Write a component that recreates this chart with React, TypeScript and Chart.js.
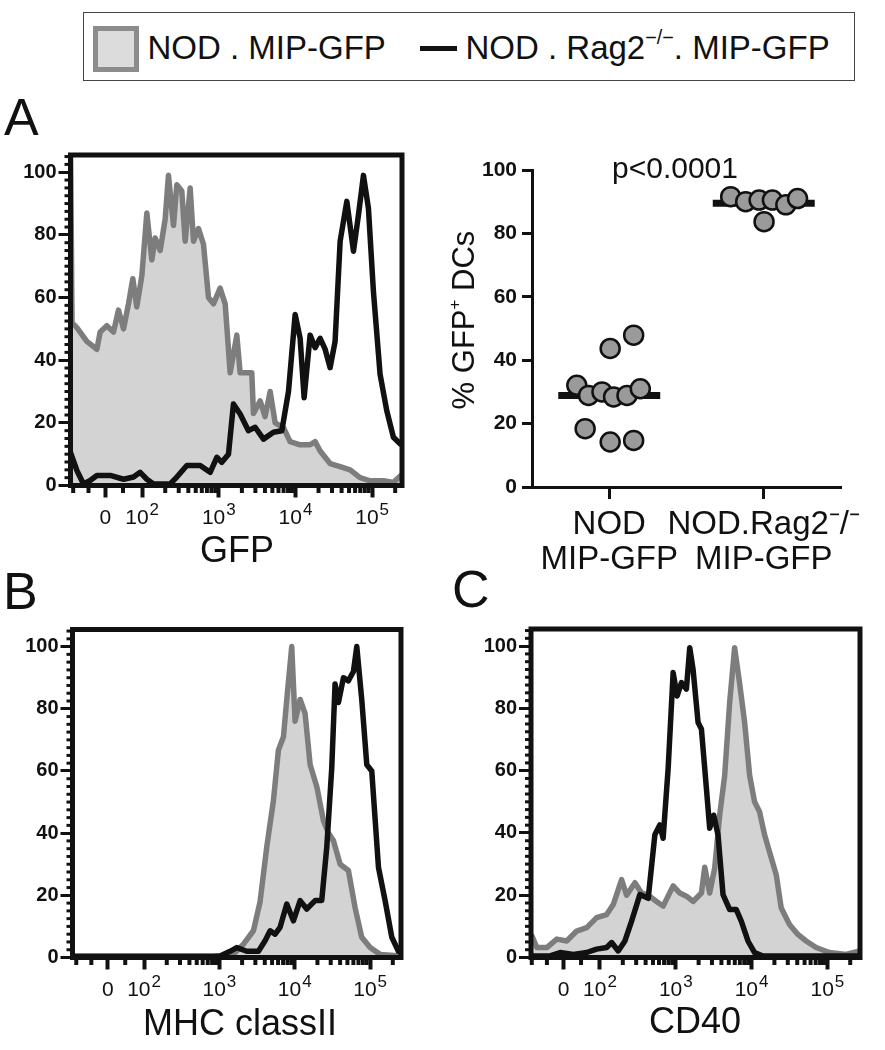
import React, { useEffect, useRef } from "react";
import { Chart, registerables } from "chart.js";

Chart.register(...registerables);
Chart.defaults.color = "#111";

const FONT = "'Liberation Sans', Arial, Helvetica, sans-serif";

// ---- histogram axes (display units: 2 = 10^2, 3 = 10^3 ...) ----
const histTickValues = [1.52, 2, 3, 4, 5];
const histTickBase = ["0", "10", "10", "10", "10"];
const histTickExp = ["", "2", "3", "4", "5"];
const histYTicks = [0, 20, 40, 60, 80, 100];
const histYMax = 105.5;
const histLinearMinor = [1.1, 1.3, 1.75];

// ---- Panel A : GFP ----
const gfpNodX = [1.065, 1.085, 1.148, 1.278, 1.409, 1.452, 1.539, 1.626, 1.691, 1.757, 1.822, 1.878, 1.93, 1.996, 2.061, 2.126, 2.17, 2.235, 2.3, 2.343, 2.409, 2.452, 2.517, 2.561, 2.626, 2.67, 2.735, 2.8, 2.865, 2.93, 3.017, 3.083, 3.148, 3.235, 3.278, 3.43, 3.452, 3.539, 3.604, 3.67, 3.735, 3.843, 3.93, 4.061, 4.191, 4.257, 4.322, 4.452, 4.583, 4.713, 4.843, 4.974, 5.148, 5.278, 5.39];
const gfpNodY = [110, 52, 50.4, 46, 43.5, 49, 51, 49, 56, 50, 58, 66, 57, 67, 87, 72, 79, 75, 85, 99, 83, 96, 94, 78, 95, 78, 82, 77, 60, 58, 63, 58, 36, 48, 36, 36, 23, 27, 22, 30, 20, 18.5, 14, 13, 13, 14, 11, 7, 6, 5, 2.5, 1.5, 1.5, 1, 3.5];
const gfpRagX = [1.065, 1.148, 1.235, 1.322, 1.409, 1.583, 1.757, 1.887, 1.974, 2.061, 2.148, 2.365, 2.452, 2.583, 2.757, 2.887, 2.974, 3.039, 3.126, 3.191, 3.278, 3.387, 3.474, 3.583, 3.713, 3.822, 3.909, 3.996, 4.061, 4.113, 4.191, 4.257, 4.322, 4.387, 4.452, 4.517, 4.583, 4.67, 4.757, 4.822, 4.887, 4.952, 5.017, 5.104, 5.191, 5.278, 5.365, 5.39];
const gfpRagY = [10.6, 4.8, 0.5, 1.6, 3.2, 3.2, 2, 2.7, 4.2, 2, 0.5, 0.5, 2.7, 6.4, 6.4, 4.2, 9, 7.4, 10, 26, 22.8, 17.5, 18.6, 14.8, 17, 17.5, 30, 54.6, 47, 28, 48, 44, 47, 43.5, 37.6, 46, 78, 90.7, 74.8, 86.4, 99, 88.5, 62, 35.5, 23.9, 15.4, 13.3, 13.8];

// ---- Panel B : MHC class II ----
const mhcNodX = [1.05, 3.142, 3.186, 3.319, 3.451, 3.54, 3.628, 3.717, 3.783, 3.85, 3.894, 3.96, 4.004, 4.071, 4.137, 4.204, 4.292, 4.381, 4.447, 4.513, 4.602, 4.712, 4.801, 4.889, 5.0, 5.133, 5.41];
const mhcNodY = [0.5, 0.5, 1, 4.3, 8.6, 18, 35.5, 50.5, 66.7, 71, 83, 100, 76, 83, 78.5, 62, 55, 44, 40, 37.6, 30, 28, 16, 6.5, 3.2, 1, 0.5];
const mhcRagX = [1.05, 2.92, 3.009, 3.142, 3.23, 3.363, 3.518, 3.606, 3.673, 3.739, 3.805, 3.894, 3.982, 4.071, 4.159, 4.27, 4.358, 4.425, 4.491, 4.535, 4.58, 4.646, 4.712, 4.779, 4.823, 4.889, 4.956, 5.022, 5.111, 5.199, 5.288, 5.376, 5.41];
const mhcRagY = [0.3, 0.3, 0.5, 2, 3.2, 2, 2, 5.4, 8.6, 7.5, 9.7, 17.2, 11.8, 18.3, 15.6, 18.3, 18.3, 35.5, 61, 88, 82, 90, 89, 92, 100, 83, 62, 60, 29, 18.3, 6.5, 2, 2];

// ---- Panel C : CD40 ----
const cd40NodX = [1.095, 1.167, 1.298, 1.43, 1.561, 1.693, 1.825, 1.956, 2.088, 2.175, 2.285, 2.351, 2.461, 2.548, 2.636, 2.746, 2.833, 2.965, 3.053, 3.14, 3.228, 3.338, 3.382, 3.447, 3.513, 3.579, 3.645, 3.711, 3.776, 3.842, 3.908, 3.974, 4.039, 4.105, 4.171, 4.259, 4.325, 4.39, 4.5, 4.61, 4.719, 4.851, 5.026, 5.246, 5.43];
const cd40NodY = [7.4, 3.2, 3.2, 5.9, 5.3, 8.5, 9.6, 12.8, 13.8, 17, 25, 20, 24, 20.7, 20, 18, 16.5, 23, 20.7, 19.7, 18, 20.7, 29, 20.7, 28.7, 45.7, 58.5, 82, 99.5, 88, 75.5, 58.5, 50, 46.8, 39.4, 32, 26.6, 16, 10.6, 7.4, 5.3, 3.2, 1.6, 1, 2.1];
const cd40RagX = [1.095, 1.342, 1.474, 1.649, 1.825, 1.956, 2.088, 2.154, 2.241, 2.329, 2.417, 2.526, 2.636, 2.724, 2.789, 2.833, 2.899, 2.965, 3.018, 3.075, 3.14, 3.184, 3.228, 3.294, 3.338, 3.404, 3.447, 3.5, 3.557, 3.623, 3.711, 3.798, 3.864, 3.952, 4.039, 4.149, 5.43];
const cd40RagY = [0.5, 0.5, 1.6, 1, 1.6, 2.7, 3.2, 4.8, 2.1, 5.3, 11.7, 20.2, 19, 39.4, 42.6, 38.3, 60.6, 91.5, 84, 88.3, 86.2, 99.5, 92.5, 75.5, 73.4, 54.3, 41.5, 45.7, 39.4, 20.2, 15.4, 15.4, 11.7, 5.3, 1.6, 0.5, 0.5];

// ---- Panel A right : % GFP+ DCs ----
const groupLabels = [["NOD", "MIP-GFP"], ["NOD.Rag2⁻/⁻", "MIP-GFP"]];
const groupTickValues = [1, 2];
const pctYTicks = [0, 20, 40, 60, 80, 100];
const nodPctX = [1.006, 1.158, 0.79, 0.866, 0.953, 1.028, 1.115, 1.201, 0.844, 1.006, 1.158];
const nodPctY = [43.7, 47.9, 32.1, 28.9, 30, 28.4, 28.9, 31, 18.4, 14.2, 14.7];
const ragPctX = [1.786, 1.883, 1.97, 2.056, 2.143, 2.219, 2.002];
const ragPctY = [91.6, 90, 90.5, 90.5, 89, 91, 83.7];
const nodMedian = 28.9;
const ragMedian = 89.5;
const medianHalfWidth = 0.33;

const pts = (xs: number[], ys: number[]) => xs.map((x, i) => ({ x, y: ys[i] }));

const histMinorX: number[] = (() => {
  const out = [...histLinearMinor];
  for (let k = 2; k <= 5; k++) for (let m = 2; m <= 9; m++) out.push(k + Math.log10(m));
  return out;
})();

const framePlugin = {
  id: "frameMinor",
  afterDraw(chart: any) {
    const { ctx, chartArea: a, scales } = chart;
    ctx.save();
    ctx.strokeStyle = "#111";
    ctx.lineCap = "butt";
    ctx.lineWidth = 3;
    for (let v = 2.5; v < histYMax; v += 2.5) {
      if (v % 20 === 0) continue;
      const y = scales.y.getPixelForValue(v);
      ctx.beginPath();
      ctx.moveTo(a.left - 6, y);
      ctx.lineTo(a.left, y);
      ctx.stroke();
    }
    ctx.lineWidth = 4;
    for (const v of histMinorX) {
      if (v < scales.x.min || v > scales.x.max) continue;
      const x = scales.x.getPixelForValue(v);
      ctx.beginPath();
      ctx.moveTo(x, a.bottom);
      ctx.lineTo(x, a.bottom + 7.5);
      ctx.stroke();
    }
    ctx.lineWidth = 5;
    ctx.strokeRect(a.left, a.top, a.right - a.left, a.bottom - a.top);

    // x tick labels with real superscripts
    ctx.fillStyle = "#111";
    ctx.textBaseline = "alphabetic";
    ctx.textAlign = "left";
    const baseFont = `21px ${FONT}`;
    const expFont = `17px ${FONT}`;
    const baseY = a.bottom + 38.5;
    histTickValues.forEach((v, i) => {
      const x = scales.x.getPixelForValue(v);
      ctx.font = baseFont;
      const wb = ctx.measureText(histTickBase[i]).width;
      ctx.font = expFont;
      const we = histTickExp[i] ? ctx.measureText(histTickExp[i]).width + 1 : 0;
      const x0 = x - (wb + we) / 2;
      ctx.font = baseFont;
      ctx.fillText(histTickBase[i], x0, baseY);
      if (we) {
        ctx.font = expFont;
        ctx.fillText(histTickExp[i], x0 + wb + 1, baseY - 9);
      }
    });
    ctx.restore();
  },
};

type Rect = { left: number; top: number; width: number; height: number };
type Area = { left: number; top: number; right: number; bottom: number };

function Histogram(props: {
  cv: Rect; area: Area; xMin: number; xMax: number;
  grayX: number[]; grayY: number[]; blackX: number[]; blackY: number[];
}) {
  const ref = useRef<HTMLCanvasElement>(null);
  const { cv, area } = props;
  useEffect(() => {
    const chart = new Chart(ref.current as HTMLCanvasElement, {
      type: "line",
      data: {
        datasets: [
          {
            data: pts(props.blackX, props.blackY),
            borderColor: "#111",
            borderWidth: 5.5,
            pointRadius: 0,
            tension: 0,
            fill: false,
            borderJoinStyle: "round",
            borderCapStyle: "round",
          },
          {
            data: pts(props.grayX, props.grayY),
            borderColor: "#7d7d7d",
            backgroundColor: "#d3d3d3",
            borderWidth: 5.5,
            pointRadius: 0,
            tension: 0,
            fill: "origin",
            borderJoinStyle: "round",
          },
        ],
      } as any,
      options: {
        animation: false,
        responsive: false,
        events: [],
        layout: {
          padding: {
            top: area.top - cv.top,
            right: cv.left + cv.width - area.right,
            left: 0,
            bottom: 0,
          },
        },
        plugins: { legend: { display: false }, tooltip: { enabled: false } },
        scales: {
          x: {
            type: "linear",
            min: props.xMin,
            max: props.xMax,
            afterBuildTicks: (s: any) => { s.ticks = histTickValues.map((v) => ({ value: v })); },
            afterFit: (s: any) => { s.height = cv.top + cv.height - area.bottom; },
            ticks: { display: false, autoSkip: false, maxRotation: 0 },
            grid: { drawOnChartArea: false, tickLength: 12, tickWidth: 4, tickColor: "#111" },
            border: { display: false },
          },
          y: {
            min: 0,
            max: histYMax,
            afterBuildTicks: (s: any) => { s.ticks = histYTicks.map((v) => ({ value: v })); },
            afterFit: (s: any) => { s.width = area.left - cv.left; },
            ticks: {
              padding: 2,
              color: "#111",
              font: { family: FONT, size: 20, weight: "bold" },
              callback: (v: any) => String(v),
            },
            grid: { drawOnChartArea: false, tickLength: 12, tickWidth: 3, tickColor: "#111" },
            border: { display: false },
          },
        },
      } as any,
      plugins: [framePlugin],
    });
    return () => chart.destroy();
  }, []);
  return (
    <canvas
      ref={ref}
      width={cv.width}
      height={cv.height}
      style={{ position: "absolute", left: cv.left, top: cv.top, width: cv.width, height: cv.height }}
    />
  );
}

function DotPlot() {
  const ref = useRef<HTMLCanvasElement>(null);
  const cv = { left: 420, top: 140, width: 465, height: 450 };
  const area = { left: 532, top: 170, right: 841, bottom: 487 };
  useEffect(() => {
    const pointStyle = {
      pointRadius: 9.5,
      pointBackgroundColor: "#9a9a9a",
      pointBorderColor: "#111",
      pointBorderWidth: 2.5,
      showLine: false,
    };
    const chart = new Chart(ref.current as HTMLCanvasElement, {
      type: "scatter",
      data: {
        datasets: [
          { data: pts(nodPctX, nodPctY), ...pointStyle },
          { data: pts(ragPctX, ragPctY), ...pointStyle },
          {
            type: "line",
            data: [
              { x: groupTickValues[0] - medianHalfWidth, y: nodMedian },
              { x: groupTickValues[0] + medianHalfWidth, y: nodMedian },
            ],
            borderColor: "#111",
            borderWidth: 7,
            pointRadius: 0,
          },
          {
            type: "line",
            data: [
              { x: groupTickValues[1] - medianHalfWidth, y: ragMedian },
              { x: groupTickValues[1] + medianHalfWidth, y: ragMedian },
            ],
            borderColor: "#111",
            borderWidth: 7,
            pointRadius: 0,
          },
        ],
      } as any,
      options: {
        animation: false,
        responsive: false,
        events: [],
        layout: {
          padding: { top: area.top - cv.top, right: cv.left + cv.width - area.right, left: 0, bottom: 0 },
        },
        plugins: { legend: { display: false }, tooltip: { enabled: false } },
        scales: {
          x: {
            type: "linear",
            min: 0.5,
            max: 2.5,
            afterBuildTicks: (s: any) => { s.ticks = groupTickValues.map((v) => ({ value: v })); },
            afterFit: (s: any) => { s.height = cv.top + cv.height - area.bottom; },
            ticks: {
              autoSkip: false,
              maxRotation: 0,
              padding: 9,
              color: "#111",
              font: { family: FONT, size: 33, lineHeight: 1.05 },
              callback: (_v: any, i: number) => groupLabels[i],
            },
            grid: { drawOnChartArea: false, tickLength: 12, tickWidth: 3, tickColor: "#111" },
            border: { display: true, width: 3, color: "#111" },
          },
          y: {
            min: 0,
            max: 100,
            afterBuildTicks: (s: any) => { s.ticks = pctYTicks.map((v) => ({ value: v })); },
            afterFit: (s: any) => { s.width = area.left - cv.left; },
            ticks: {
              padding: 5,
              color: "#111",
              font: { family: FONT, size: 21, weight: "bold" },
              callback: (v: any) => String(v),
            },
            grid: { drawOnChartArea: false, tickLength: 10, tickWidth: 3, tickColor: "#111" },
            border: { display: true, width: 3, color: "#111" },
          },
        },
      } as any,
    });
    return () => chart.destroy();
  }, []);
  return (
    <canvas
      ref={ref}
      width={cv.width}
      height={cv.height}
      style={{ position: "absolute", left: cv.left, top: cv.top, width: cv.width, height: cv.height }}
    />
  );
}

const txt = (left: number, top: number, size: number, extra: React.CSSProperties = {}): React.CSSProperties => ({
  position: "absolute",
  left,
  top,
  fontFamily: FONT,
  fontSize: size,
  lineHeight: 1,
  color: "#111",
  whiteSpace: "nowrap",
  ...extra,
});

export default function App() {
  return (
    <div style={{ position: "absolute", left: 0, top: 0, width: 885, height: 1050, background: "#fff", overflow: "hidden" }}>
      <Histogram
        cv={{ left: 0, top: 140, width: 420, height: 390 }}
        area={{ left: 70.5, top: 155, right: 402, bottom: 485.5 }}
        xMin={1.065}
        xMax={5.39}
        grayX={gfpNodX}
        grayY={gfpNodY}
        blackX={gfpRagX}
        blackY={gfpRagY}
      />
      <Histogram
        cv={{ left: 0, top: 615, width: 420, height: 395 }}
        area={{ left: 72.5, top: 629.5, right: 401, bottom: 957.5 }}
        xMin={1.05}
        xMax={5.41}
        grayX={mhcNodX}
        grayY={mhcNodY}
        blackX={mhcRagX}
        blackY={mhcRagY}
      />
      <Histogram
        cv={{ left: 450, top: 615, width: 430, height: 395 }}
        area={{ left: 531, top: 627.5, right: 860, bottom: 957.5 }}
        xMin={1.09}
        xMax={5.43}
        grayX={cd40NodX}
        grayY={cd40NodY}
        blackX={cd40RagX}
        blackY={cd40RagY}
      />
      <DotPlot />

      {/* legend */}
      <div
        style={{
          position: "absolute", left: 83, top: 12, width: 772, height: 69,
          border: "1.5px solid #444", boxSizing: "border-box",
        }}
      />
      <div
        style={{
          position: "absolute", left: 93, top: 26, width: 46, height: 46,
          background: "#dcdcdc", border: "5px solid #8c8c8c", boxSizing: "border-box",
        }}
      />
      <div style={txt(147.5, 31, 33)}>NOD . MIP-GFP</div>
      <div style={{ position: "absolute", left: 420, top: 46, width: 37, height: 5, background: "#111" }} />
      <div style={txt(465.5, 31, 33)}>
        NOD . Rag2<sup style={{ fontSize: "0.6em", lineHeight: 0, verticalAlign: "0.75em" }}>−/−</sup>. MIP-GFP
      </div>

      {/* panel letters */}
      <div style={txt(4, 91, 52)}>A</div>
      <div style={txt(3, 565, 52)}>B</div>
      <div style={txt(452, 563, 52)}>C</div>

      {/* axis titles */}
      <div style={txt(137, 532, 36, { width: 200, textAlign: "center" })}>GFP</div>
      <div style={txt(140, 1005, 36, { width: 200, textAlign: "center" })}>MHC classII</div>
      <div style={txt(595, 1003, 36, { width: 200, textAlign: "center" })}>CD40</div>

      <div style={txt(575, 153, 30, { width: 200, textAlign: "center" })}>p&lt;0.0001</div>
      <div
        style={txt(463, 320, 31, {
          transform: "translate(-50%, -50%) rotate(-90deg)",
          transformOrigin: "center center",
        })}
      >
        % GFP<sup style={{ fontSize: "0.55em", lineHeight: 0, verticalAlign: "0.8em" }}>+</sup> DCs
      </div>
    </div>
  );
}
